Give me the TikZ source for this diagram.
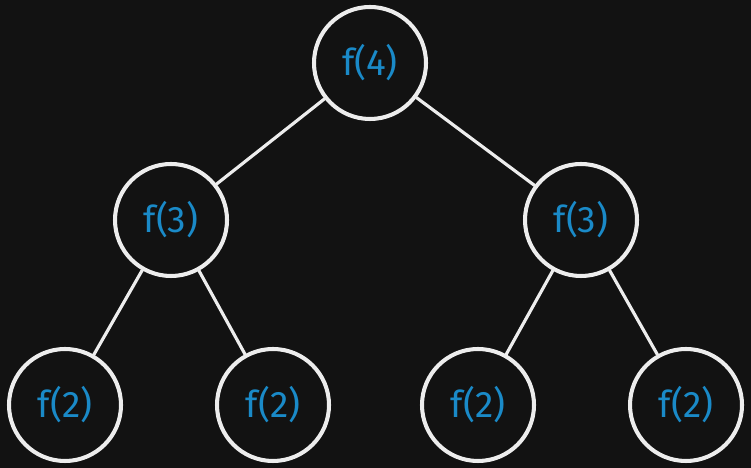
\documentclass[tikz,border=0pt]{standalone}
\usepackage{fontspec}
\setmainfont{Fira Sans}
\definecolor{bgdark}{HTML}{121212}
\definecolor{callblue}{HTML}{1A8AC8}
\definecolor{chalk}{HTML}{EDEDED}
\begin{document}
\begin{tikzpicture}[
    call/.style={circle, draw=chalk, line width=2.3pt, minimum size=22.4mm, inner sep=0pt,
        text=callblue, font=\fontsize{21}{24}\selectfont},
    branch/.style={draw=chalk, line width=1.8pt, line cap=round}
]
% Fond
\fill[bgdark] (0, 0) rectangle (15.02, 9.36);
\useasboundingbox (0, 0) rectangle (15.02, 9.36);

% Appels
\node[call] (f4) at (7.40, 8.10) {f(4)};
\node[call] (f3a) at (3.42, 4.96) {f(3)};
\node[call] (f3b) at (11.62, 4.96) {f(3)};
\node[call] (f2a) at (1.30, 1.26) {f(2)};
\node[call] (f2b) at (5.46, 1.26) {f(2)};
\node[call] (f2c) at (9.56, 1.26) {f(2)};
\node[call] (f2d) at (13.72, 1.26) {f(2)};

% Branches
\draw[branch] (f4) -- (f3a);
\draw[branch] (f4) -- (f3b);
\draw[branch] (f3a) -- (f2a);
\draw[branch] (f3a) -- (f2b);
\draw[branch] (f3b) -- (f2c);
\draw[branch] (f3b) -- (f2d);
\end{tikzpicture}
\end{document}
